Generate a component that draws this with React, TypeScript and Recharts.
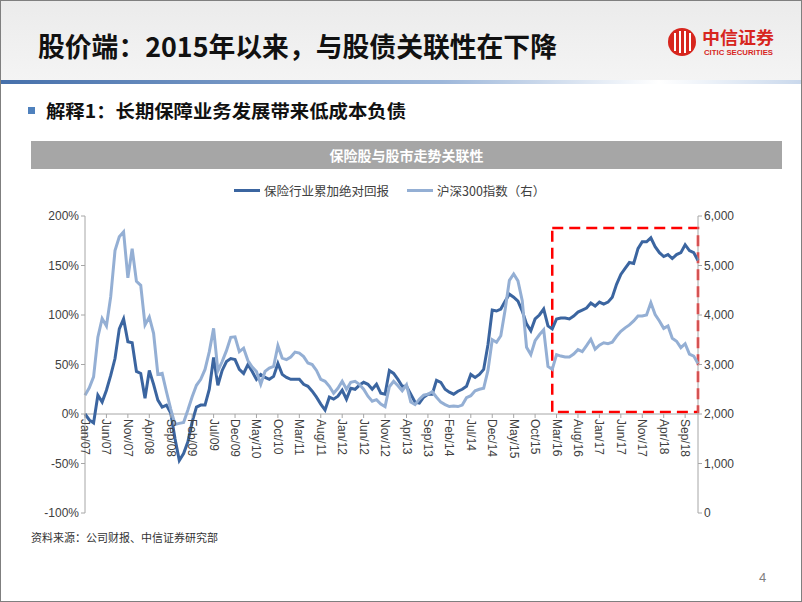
import React from "react";
import { LineChart, Line, XAxis, YAxis, ReferenceLine, ReferenceArea } from "recharts";

const MONTHS = ["Jan", "Feb", "Mar", "Apr", "May", "Jun", "Jul", "Aug", "Sep", "Oct", "Nov", "Dec"];
const YEARS = ["07", "08", "09", "10", "11", "12", "13", "14", "15", "16", "17", "18"];
const categories = YEARS.flatMap(y => MONTHS.map(m => `${m}/${y}`));

const tickLabels = [
  "Jan/07", "Jun/07", "Nov/07", "Apr/08", "Sep/08", "Feb/09", "Jul/09", "Dec/09", "May/10", "Oct/10",
  "Mar/11", "Aug/11", "Jan/12", "Jun/12", "Nov/12", "Apr/13", "Sep/13", "Feb/14", "Jul/14", "Dec/14",
  "May/15", "Oct/15", "Mar/16", "Aug/16", "Jan/17", "Jun/17", "Nov/17", "Apr/18", "Sep/18"
];

// 保险行业累加绝对回报 (%)
const insuranceReturn = [
  0, -6, -9, 19, 12, 24, 39, 56, 86, 96, 73, 72,
  43, 41, 16, 44, 30, 14, 7, 9, 1, -25, -47, -40,
  -28, -8, 7, 9, 9, 25, 57, 29, 44, 53, 56, 55,
  45, 41, 50, 43, 35, 40, 37, 35, 38, 51, 40, 37,
  35, 35, 35, 30, 28, 23, 17, 10, 4, 17, 15, 18,
  24, 15, 26, 25, 29, 32, 30, 25, 30, 21, 20, 44,
  41, 35, 28, 28, 20, 12, 11, 17, 20, 20, 34, 32,
  25, 22, 20, 23, 25, 28, 40, 37, 40, 45, 70, 105,
  104, 106, 114, 121, 118, 114, 104, 91, 84, 96, 100, 106,
  89, 86, 96, 97, 97, 96, 99, 103, 105, 107, 112, 109,
  113, 111, 113, 118, 131, 141, 147, 153, 152, 167, 174, 174,
  178, 169, 163, 159, 161, 157, 161, 163, 171, 165, 163, 155
];

// 沪深300指数（右）
const csi300 = [
  2380, 2530, 2750, 3550, 3930, 3780, 4370, 5300, 5580, 5680, 4750, 5340,
  4680, 4600, 3800, 3960, 3630, 2800, 2820, 2450, 2100, 1790, 1810, 1830,
  2080, 2350, 2580, 2700, 2900, 3260, 3730, 2870, 3060, 3280, 3550, 3560,
  3260, 3330, 3080, 2950, 2860, 2600, 2860, 2930, 2960, 3380, 3130, 3100,
  3150, 3250, 3230, 3160, 3030, 3000, 2880, 2700, 2660, 2560, 2420, 2520,
  2660, 2500, 2640, 2660, 2600, 2500, 2360, 2260, 2290, 2200, 2150, 2550,
  2660, 2570, 2470, 2590, 2240, 2190, 2300, 2380, 2400, 2450, 2340, 2240,
  2190, 2150, 2160, 2150, 2180, 2330, 2370, 2470, 2500, 2520, 2880, 3500,
  3450, 3580, 4100, 4700, 4830, 4690, 4290, 3350, 3200, 3480, 3600, 3700,
  2960, 2900, 3200, 3170, 3150, 3150, 3210, 3300, 3260, 3380, 3510, 3310,
  3390, 3440, 3420, 3450, 3570, 3670, 3740, 3800, 3880, 3980, 3980, 4000,
  4250, 4010, 3880, 3730, 3780, 3530, 3470, 3340, 3420, 3210, 3170, 3020
];

const leftTicks = [-100, -50, 0, 50, 100, 150, 200];
const rightTicks = [0, 1000, 2000, 3000, 4000, 5000, 6000];

const rows = categories.map((month, i) => ({ month, ins: insuranceReturn[i], csi: csi300[i] }));

const DARK = "#3b65a0";
const LIGHT = "#94afd4";
const AXIS = "#a6a6a6";
const LABEL = "#404040";
const FONT = "'Liberation Sans', Arial, 'Noto Sans CJK SC', sans-serif";
const CJK = "'Noto Sans CJK SC', 'Liberation Sans', sans-serif";

const CHART_TOP = 175;
const PLOT_H = 297;

function MonthTick(props: any) {
  const { x, y, payload } = props;
  const zeroY = y - PLOT_H / 3;
  const ty = zeroY + 5;
  return (
    <g>
      <line x1={x} x2={x} y1={zeroY} y2={zeroY + 4} stroke={AXIS} />
      <text
        x={x}
        y={ty}
        transform={`rotate(90 ${x} ${ty})`}
        textAnchor="start"
        dominantBaseline="central"
        fontSize={12}
        fontFamily={FONT}
        fill={LABEL}
      >
        {payload.value}
      </text>
    </g>
  );
}

function Logo() {
  return (
    <svg width={120} height={40} style={{ position: "absolute", left: 662, top: 22 }}>
      <circle cx={19} cy={19} r={14} fill="#d7261e" />
      <path d="M12 10 v18 M17 8 v22 M22 8 v22 M27 10 v18" stroke="#fff" strokeWidth={2} />
      <text x={39} y={21} fontSize={17} fontWeight={700} fill="#d7261e" fontFamily="'Noto Sans CJK SC', serif" textLength={72} lengthAdjust="spacingAndGlyphs">中信证券</text>
      <text x={41} y={32} fontSize={7.5} fontWeight={700} fill="#d7261e" fontFamily={FONT} textLength={69} lengthAdjust="spacingAndGlyphs">CITIC SECURITIES</text>
    </svg>
  );
}

export default function App() {
  return (
    <div style={{ position: "absolute", left: 0, top: 0, width: 802, height: 602, background: "#fff", boxSizing: "border-box", border: "1px solid #7f7f7f", overflow: "hidden" }}>
      <div style={{ position: "absolute", left: 0, top: 0, width: 802, height: 79, background: "linear-gradient(#ebebeb, #f4f4f4)" }} />
      <div style={{ position: "absolute", left: 0, top: 79, width: 802, height: 4, background: "linear-gradient(to right, #4670ab, #9db7da 55%, #ffffff 82%, #c9d8ec)" }} />
      <svg width={560} height={60} style={{ position: "absolute", left: 0, top: 16 }}>
        <text x={37} y={40} fontSize={27} fontWeight={700} fill="#111" fontFamily={CJK} textLength={519} lengthAdjust="spacingAndGlyphs">股价端：2015年以来，与股债关联性在下降</text>
      </svg>
      <Logo />
      <div style={{ position: "absolute", left: 27, top: 106, width: 7, height: 7, background: "#4f81bd" }} />
      <svg width={440} height={34} style={{ position: "absolute", left: 0, top: 94 }}>
        <text x={45} y={23} fontSize={18} fontWeight={700} fill="#111" fontFamily={CJK} textLength={360} lengthAdjust="spacingAndGlyphs">解释1：长期保障业务发展带来低成本负债</text>
      </svg>
      <div style={{ position: "absolute", left: 30, top: 140, width: 751, height: 28, background: "#a6a6a6", color: "#fff", fontFamily: CJK, fontWeight: 700, fontSize: 14, lineHeight: "28px", textAlign: "center" }}>
        保险股与股市走势关联性
      </div>
      <div style={{ position: "absolute", left: 233, top: 180, display: "flex", alignItems: "center", fontFamily: CJK, fontSize: 12.5, color: LABEL, whiteSpace: "nowrap" }}>
        <span style={{ display: "inline-block", width: 26, height: 3, background: DARK, marginRight: 4 }} />
        <span>保险行业累加绝对回报</span>
        <span style={{ display: "inline-block", width: 26, height: 3, background: LIGHT, marginLeft: 18, marginRight: 4 }} />
        <span>沪深300指数（右）</span>
      </div>
      <div style={{ position: "absolute", left: 0, top: CHART_TOP }}>
        <LineChart width={802} height={360} data={rows} margin={{ top: 40, right: 45, bottom: 3, left: 34 }}>
          <XAxis
            dataKey="month"
            ticks={tickLabels}
            interval={0}
            axisLine={false}
            tickLine={false}
            tickSize={0}
            tickMargin={0}
            height={20}
            tick={<MonthTick />}
          />
          <YAxis
            yAxisId="left"
            domain={[-100, 200]}
            ticks={leftTicks}
            tickFormatter={(v: number) => `${v}%`}
            width={50}
            stroke={AXIS}
            tickSize={4}
            tick={{ fontSize: 12, fill: LABEL, fontFamily: FONT }}
          />
          <YAxis
            yAxisId="right"
            orientation="right"
            domain={[0, 6000]}
            ticks={rightTicks}
            tickFormatter={(v: number) => v.toLocaleString("en-US")}
            width={60}
            stroke={AXIS}
            tickSize={4}
            tick={{ fontSize: 12, fill: LABEL, fontFamily: FONT }}
          />
          <ReferenceLine yAxisId="left" y={0} stroke={AXIS} />
          <Line yAxisId="left" type="linear" dataKey="ins" stroke={DARK} strokeWidth={3} dot={false} isAnimationActive={false} />
          <Line yAxisId="right" type="linear" dataKey="csi" stroke={LIGHT} strokeWidth={3} dot={false} isAnimationActive={false} />
          <ReferenceArea
            yAxisId="right"
            x1="Feb/16"
            x2="Dec/18"
            y1={2040}
            y2={5760}
            fill="none"
            stroke="#ff0000"
            strokeWidth={2.5}
            strokeDasharray="11 6"
            ifOverflow="visible"
          />
        </LineChart>
      </div>
      <div style={{ position: "absolute", left: 30, top: 528, fontFamily: CJK, fontSize: 11, color: "#333" }}>资料来源：公司财报、中信证券研究部</div>
      <div style={{ position: "absolute", left: 758, top: 569, fontFamily: FONT, fontSize: 13, color: "#7f7f7f" }}>4</div>
    </div>
  );
}
